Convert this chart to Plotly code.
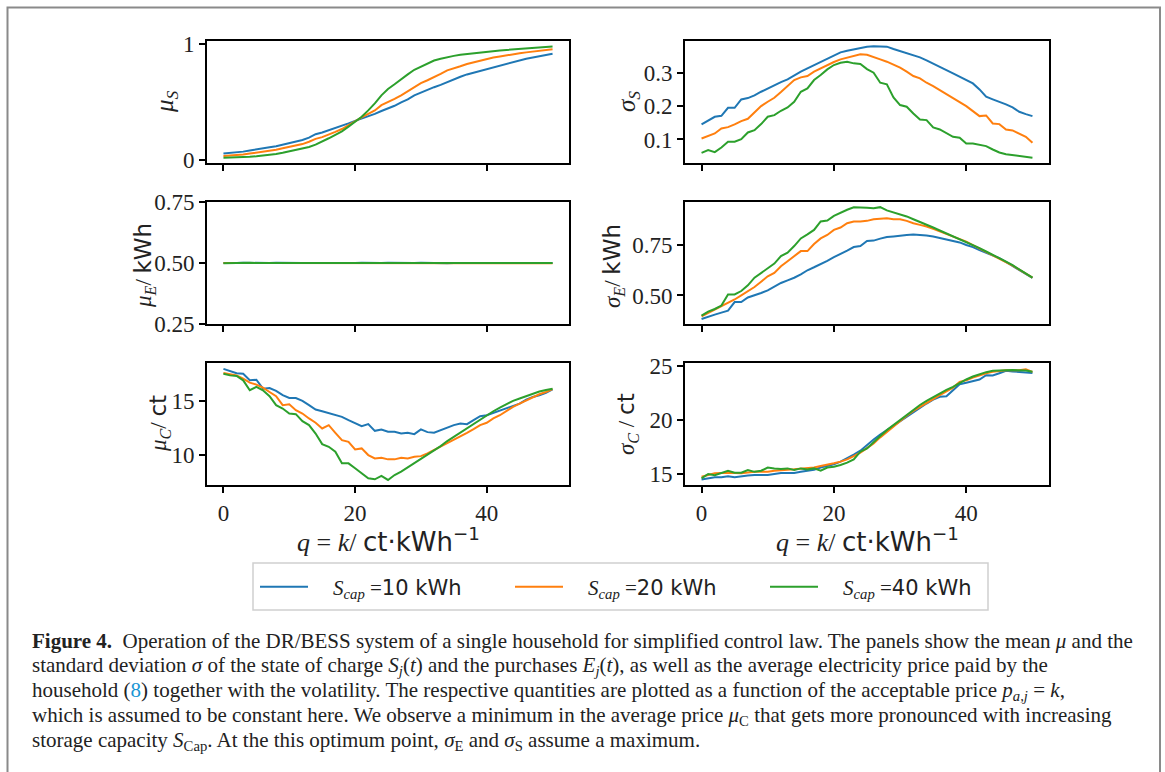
import plotly.graph_objects as go
from plotly.subplots import make_subplots

W, H = 1165, 772

k = list(range(51))

# ---------------- data ----------------
mu_S_10 = [0.058, 0.063, 0.068, 0.075, 0.085, 0.092, 0.100, 0.112, 0.122, 0.135, 0.148, 0.160, 0.175, 0.195,
           0.225, 0.240, 0.258, 0.278, 0.298, 0.318, 0.340, 0.360, 0.375, 0.400, 0.425, 0.445, 0.470, 0.500,
           0.525, 0.560, 0.585, 0.610, 0.630, 0.650, 0.675, 0.700, 0.720, 0.740, 0.755, 0.770, 0.785, 0.800,
           0.818, 0.833, 0.850, 0.862, 0.875, 0.885, 0.897, 0.907, 0.918]
mu_S_20 = [0.037, 0.040, 0.044, 0.050, 0.058, 0.065, 0.072, 0.082, 0.092, 0.104, 0.115, 0.125, 0.140, 0.160,
           0.185, 0.200, 0.220, 0.245, 0.270, 0.305, 0.340, 0.370, 0.400, 0.430, 0.475, 0.500, 0.530, 0.560,
           0.595, 0.630, 0.665, 0.690, 0.715, 0.745, 0.775, 0.790, 0.810, 0.830, 0.845, 0.860, 0.875, 0.885,
           0.895, 0.905, 0.918, 0.922, 0.930, 0.938, 0.945, 0.950, 0.957]
mu_S_40 = [0.023, 0.024, 0.025, 0.027, 0.030, 0.035, 0.040, 0.046, 0.055, 0.065, 0.078, 0.090, 0.102, 0.115,
           0.135, 0.160, 0.190, 0.220, 0.250, 0.290, 0.330, 0.375, 0.430, 0.490, 0.560, 0.615, 0.655, 0.700,
           0.740, 0.780, 0.805, 0.835, 0.860, 0.875, 0.890, 0.900, 0.910, 0.917, 0.925, 0.932, 0.937, 0.942,
           0.947, 0.951, 0.955, 0.960, 0.964, 0.968, 0.972, 0.976, 0.980]

sig_S_10 = [0.145, 0.157, 0.168, 0.171, 0.195, 0.195, 0.220, 0.224, 0.232, 0.243, 0.253, 0.263, 0.272, 0.280,
            0.292, 0.303, 0.313, 0.323, 0.333, 0.343, 0.353, 0.361, 0.366, 0.370, 0.374, 0.378, 0.379, 0.379,
            0.378, 0.371, 0.365, 0.358, 0.352, 0.346, 0.337, 0.328, 0.318, 0.308, 0.298, 0.288, 0.278, 0.268,
            0.250, 0.228, 0.220, 0.213, 0.205, 0.196, 0.183, 0.176, 0.170]
sig_S_20 = [0.103, 0.110, 0.118, 0.133, 0.137, 0.145, 0.155, 0.162, 0.180, 0.200, 0.213, 0.225, 0.242, 0.260,
            0.278, 0.286, 0.290, 0.303, 0.313, 0.323, 0.332, 0.340, 0.345, 0.350, 0.355, 0.354, 0.348, 0.340,
            0.333, 0.325, 0.315, 0.303, 0.290, 0.283, 0.270, 0.260, 0.248, 0.235, 0.222, 0.212, 0.200, 0.185,
            0.170, 0.172, 0.148, 0.146, 0.130, 0.127, 0.117, 0.108, 0.090]
sig_S_40 = [0.060, 0.068, 0.062, 0.076, 0.093, 0.093, 0.101, 0.121, 0.128, 0.146, 0.168, 0.173, 0.186, 0.196,
            0.213, 0.243, 0.253, 0.278, 0.293, 0.310, 0.323, 0.330, 0.333, 0.328, 0.326, 0.311, 0.300, 0.270,
            0.265, 0.226, 0.203, 0.198, 0.178, 0.160, 0.158, 0.136, 0.130, 0.118, 0.108, 0.105, 0.088, 0.088,
            0.085, 0.080, 0.070, 0.061, 0.056, 0.053, 0.050, 0.048, 0.045]

mu_E_10 = [0.500, 0.499, 0.500, 0.501, 0.500, 0.499, 0.500, 0.500, 0.501, 0.500, 0.500, 0.499, 0.500, 0.500,
           0.501, 0.500, 0.500, 0.500, 0.499, 0.500, 0.500, 0.501, 0.500, 0.500, 0.500, 0.501, 0.500, 0.500,
           0.499, 0.500, 0.501, 0.500, 0.500, 0.500, 0.499, 0.500, 0.500, 0.501, 0.501, 0.500, 0.500, 0.500,
           0.500, 0.499, 0.500, 0.500, 0.500, 0.500, 0.500, 0.500, 0.500]
mu_E_20 = [0.500, 0.500, 0.501, 0.500, 0.499, 0.500, 0.500, 0.501, 0.500, 0.500, 0.499, 0.500, 0.500, 0.501,
           0.500, 0.500, 0.500, 0.499, 0.500, 0.500, 0.501, 0.500, 0.500, 0.500, 0.500, 0.500, 0.501, 0.500,
           0.500, 0.499, 0.500, 0.500, 0.501, 0.500, 0.500, 0.500, 0.500, 0.500, 0.500, 0.501, 0.500, 0.500,
           0.500, 0.500, 0.499, 0.500, 0.500, 0.500, 0.500, 0.500, 0.499]
mu_E_40 = [0.499, 0.500, 0.500, 0.500, 0.501, 0.500, 0.500, 0.499, 0.500, 0.500, 0.500, 0.500, 0.501, 0.500,
           0.500, 0.500, 0.501, 0.500, 0.500, 0.500, 0.500, 0.499, 0.500, 0.501, 0.500, 0.500, 0.500, 0.500,
           0.501, 0.500, 0.500, 0.500, 0.500, 0.499, 0.500, 0.500, 0.501, 0.500, 0.500, 0.500, 0.500, 0.501,
           0.500, 0.500, 0.500, 0.500, 0.500, 0.499, 0.500, 0.500, 0.500]

sig_E_10 = [0.383, 0.395, 0.405, 0.415, 0.425, 0.467, 0.467, 0.490, 0.500, 0.512, 0.525, 0.545, 0.562, 0.575,
            0.588, 0.605, 0.625, 0.640, 0.655, 0.672, 0.690, 0.705, 0.722, 0.740, 0.745, 0.770, 0.772, 0.782,
            0.790, 0.793, 0.798, 0.800, 0.802, 0.800, 0.797, 0.792, 0.785, 0.780, 0.772, 0.763, 0.750, 0.740,
            0.725, 0.712, 0.700, 0.685, 0.666, 0.647, 0.627, 0.607, 0.587]
sig_E_20 = [0.397, 0.413, 0.430, 0.445, 0.462, 0.480, 0.500, 0.520, 0.542, 0.568, 0.595, 0.612, 0.645, 0.670,
            0.695, 0.720, 0.720, 0.755, 0.783, 0.800, 0.825, 0.837, 0.858, 0.867, 0.867, 0.870, 0.878, 0.882,
            0.883, 0.878, 0.878, 0.870, 0.858, 0.850, 0.842, 0.830, 0.817, 0.805, 0.792, 0.780, 0.767, 0.750,
            0.733, 0.717, 0.700, 0.683, 0.667, 0.648, 0.628, 0.608, 0.588]
sig_E_40 = [0.400, 0.420, 0.433, 0.450, 0.505, 0.505, 0.522, 0.550, 0.588, 0.612, 0.638, 0.658, 0.695, 0.712,
            0.745, 0.783, 0.803, 0.825, 0.867, 0.872, 0.895, 0.912, 0.925, 0.937, 0.937, 0.935, 0.933, 0.938,
            0.922, 0.913, 0.903, 0.892, 0.878, 0.865, 0.850, 0.837, 0.822, 0.808, 0.792, 0.780, 0.767, 0.752,
            0.735, 0.718, 0.702, 0.685, 0.668, 0.650, 0.630, 0.610, 0.588]

mu_C_10 = [18.00, 17.80, 17.60, 17.55, 16.95, 17.00, 16.17, 16.23, 15.96, 15.56, 15.30, 15.30, 15.03, 14.63,
           14.23, 14.07, 13.92, 13.70, 13.55, 13.24, 13.00, 12.69, 12.87, 12.25, 12.38, 12.16, 12.16, 12.00,
           12.07, 11.94, 12.38, 12.13, 12.07, 12.31, 12.56, 12.78, 12.93, 12.87, 13.24, 13.61, 13.70, 13.92,
           14.17, 14.38, 14.54, 14.78, 15.15, 15.40, 15.56, 15.77, 16.10]
mu_C_20 = [17.62, 17.50, 17.40, 17.10, 16.73, 16.54, 16.27, 15.86, 15.46, 14.63, 14.72, 14.17, 13.86, 13.40,
           13.00, 12.47, 12.78, 12.07, 11.39, 11.23, 10.52, 10.62, 10.00, 9.69, 9.75, 9.60, 9.60, 9.75,
           9.69, 9.84, 9.90, 10.15, 10.46, 10.77, 11.14, 11.39, 11.70, 12.07, 12.41, 12.78, 13.00, 13.40,
           13.70, 14.10, 14.48, 14.78, 15.09, 15.40, 15.65, 15.86, 16.12]
mu_C_40 = [17.56, 17.40, 17.35, 16.94, 16.02, 16.33, 16.02, 15.46, 14.63, 14.32, 13.86, 13.80, 13.15, 12.78,
           12.00, 11.02, 10.77, 10.31, 9.23, 9.23, 8.77, 8.30, 7.84, 7.75, 8.06, 7.69, 8.15, 8.46,
           8.86, 9.23, 9.60, 10.00, 10.40, 10.83, 11.30, 11.70, 12.10, 12.47, 12.87, 13.30, 13.70, 14.07,
           14.41, 14.72, 15.03, 15.25, 15.49, 15.71, 15.90, 16.05, 16.15]

sig_C_10 = [14.50, 14.60, 14.70, 14.70, 14.80, 14.70, 14.80, 14.85, 14.90, 14.90, 14.90, 15.00, 15.10, 15.10,
            15.10, 15.20, 15.30, 15.40, 15.60, 15.75, 15.90, 16.15, 16.45, 16.80, 17.16, 17.70, 18.20, 18.65,
            19.07, 19.50, 19.90, 20.35, 20.77, 21.15, 21.54, 21.90, 22.16, 22.22, 22.78, 23.33, 23.46, 23.60,
            23.77, 24.17, 24.14, 24.35, 24.57, 24.52, 24.48, 24.40, 24.38]
sig_C_20 = [14.75, 14.90, 15.06, 15.10, 15.12, 15.10, 15.06, 15.15, 15.20, 15.20, 15.20, 15.30, 15.37, 15.40,
            15.43, 15.48, 15.52, 15.60, 15.74, 15.85, 15.99, 16.15, 16.36, 16.65, 16.98, 17.40, 17.84, 18.40,
            18.92, 19.45, 19.94, 20.40, 20.86, 21.25, 21.60, 21.95, 22.31, 22.65, 23.02, 23.55, 23.70, 23.95,
            24.17, 24.35, 24.48, 24.58, 24.63, 24.63, 24.63, 24.72, 24.48]
sig_C_40 = [14.60, 15.00, 14.88, 15.06, 15.30, 15.12, 15.12, 15.37, 15.20, 15.30, 15.60, 15.52, 15.46, 15.52,
            15.37, 15.52, 15.43, 15.52, 15.30, 15.60, 15.68, 15.83, 16.05, 16.36, 17.07, 17.38, 17.99, 18.52,
            19.07, 19.54, 20.06, 20.50, 20.99, 21.40, 21.79, 22.15, 22.47, 22.80, 23.09, 23.45, 23.77, 24.05,
            24.26, 24.45, 24.57, 24.62, 24.63, 24.65, 24.63, 24.60, 24.48]

series_names = ["10", "20", "40"]
colors = ["#1f77b4", "#ff7f0e", "#2ca02c"]

panels = [
    (1, 1, [mu_S_10, mu_S_20, mu_S_40], [0, 1], ["0", "1"], [-0.023, 1.028]),
    (1, 2, [sig_S_10, sig_S_20, sig_S_40], [0.1, 0.2, 0.3], ["0.1", "0.2", "0.3"], [0.0295, 0.395]),
    (2, 1, [mu_E_10, mu_E_20, mu_E_40], [0.25, 0.5, 0.75], ["0.25", "0.50", "0.75"], [0.25, 0.75]),
    (2, 2, [sig_E_10, sig_E_20, sig_E_40], [0.5, 0.75], ["0.50", "0.75"], [0.3585, 0.9635]),
    (3, 1, [mu_C_10, mu_C_20, mu_C_40], [10, 15], ["10", "15"], [7.22, 18.55]),
    (3, 2, [sig_C_10, sig_C_20, sig_C_40], [15, 20, 25], ["15", "20", "25"], [13.98, 25.3]),
]
x_ticks = [0, 20, 40]

SERIF = "Liberation Serif"
SANS = "DejaVu Sans"
NB = "\u00a0"

fig = make_subplots(rows=3, cols=2)

for (r, c, ys, tv, tt, yr) in panels:
    for i, y in enumerate(ys):
        name = (NB * 3 + "<span style='font-family:Liberation Serif'><i>S</i><sub><i>cap</i></sub> =</span>"
                + series_names[i] + " kWh")
        fig.add_trace(go.Scatter(x=k, y=y, mode="lines", line=dict(color=colors[i], width=2),
                                 name=name, showlegend=(r == 1 and c == 1)), row=r, col=c)
    fig.update_yaxes(row=r, col=c, range=yr, tickvals=tv, ticktext=tt)
    fig.update_xaxes(row=r, col=c, range=[-2.5, 52.5], tickvals=x_ticks,
                     ticktext=[str(v) for v in x_ticks], showticklabels=(r == 3))

# domains in pixels
col_px = {1: (207, 569), 2: (685, 1049)}
row_px = {1: (41, 163), 2: (202, 324), 3: (363, 485)}
for r in (1, 2, 3):
    for c in (1, 2):
        x0, x1 = col_px[c]
        t, b = row_px[r]
        fig.update_xaxes(row=r, col=c, domain=[x0 / W, x1 / W])
        fig.update_yaxes(row=r, col=c, domain=[1 - b / H, 1 - t / H])

axis_common = dict(showline=True, linecolor="black", linewidth=2, mirror=True, showgrid=False,
                   zeroline=False, ticks="outside", ticklen=6, tickwidth=1.5, tickcolor="black",
                   automargin=False,
                   tickfont=dict(family=SERIF, size=23, color="#222"))
fig.update_xaxes(**axis_common)
fig.update_yaxes(**axis_common)

annotations = []


def ann(text, xpx, ypx, size=26, angle=0, xanchor="center", family=SERIF):
    annotations.append(dict(text=text, x=xpx / W, y=1 - ypx / H, xref="paper", yref="paper",
                            showarrow=False, textangle=angle, xanchor=xanchor, yanchor="middle",
                            font=dict(family=family, size=size, color="#222")))


sans = lambda s: "<span style='font-family:DejaVu Sans'>" + s + "</span>"

# y-axis titles
YT = 23
ann("<i>μ</i><sub><i>S</i></sub>", 166, 102, size=25, angle=-90)
ann("<i>μ</i><sub><i>E</i></sub>/ " + sans("kWh"), 144, 266, size=YT, angle=-90)
ann("<i>μ</i><sub><i>C</i></sub>/ " + sans("ct"), 160, 424, size=YT, angle=-90)
ann("<i>σ</i><sub><i>S</i></sub>", 628, 102, size=25, angle=-90)
ann("<i>σ</i><sub><i>E</i></sub>/ " + sans("kWh"), 613, 266, size=YT, angle=-90)
ann("<i>σ</i><sub><i>C</i></sub> / " + sans("ct"), 628, 424, size=YT, angle=-90)

# x-axis titles
xt = "<i>q</i> = <i>k</i>/ " + sans("ct·kWh<sup>−1</sup>")
ann(xt, 388, 540)
ann(xt, 867, 540)

# caption
cap = [
    "<b>Figure 4.</b>  Operation of the DR/BESS system of a single household for simplified control law. "
    "The panels show the mean <i>μ</i> and the",
    "standard deviation <i>σ</i> of the state of charge <i>S</i><sub><i>j</i></sub>(<i>t</i>) and the purchases "
    "<i>E</i><sub><i>j</i></sub>(<i>t</i>), as well as the average electricity price paid by the",
    "household (<span style='color:#1a96d4'>8</span>) together with the volatility. The respective quantities "
    "are plotted as a function of the acceptable price <i>p</i><sub><i>a,j</i></sub> = <i>k</i>,",
    "which is assumed to be constant here. We observe a minimum in the average price <i>μ</i><sub>C</sub> "
    "that gets more pronounced with increasing",
    "storage capacity <i>S</i><sub>Cap</sub>. At the this optimum point, <i>σ</i><sub>E</sub> and "
    "<i>σ</i><sub>S</sub> assume a maximum.",
]
for i, line in enumerate(cap):
    ann(line, 30, 641 + 25 * i, size=21, xanchor="left")

fig.update_layout(
    width=W, height=H, margin=dict(l=0, r=0, t=0, b=0, autoexpand=False),
    paper_bgcolor="white", plot_bgcolor="white",
    annotations=annotations,
    legend=dict(orientation="h", x=255 / W, y=1 - 587 / H, xanchor="left", yanchor="middle",
                borderwidth=0, bgcolor="rgba(0,0,0,0)",
                font=dict(family=SANS, size=21, color="#222"),
                entrywidth=192, entrywidthmode="pixels", itemwidth=48),
    shapes=[
        dict(type="rect", xref="paper", yref="paper", x0=7.5 / W, x1=1160 / W, y0=-0.05,
             y1=1 - 7.5 / H, line=dict(color="#8a8a8a", width=2), fillcolor="rgba(0,0,0,0)"),
        dict(type="rect", xref="paper", yref="paper", x0=253 / W, x1=988 / W, y0=1 - 610 / H,
             y1=1 - 563 / H, line=dict(color="#d0d0d0", width=1.5), fillcolor="rgba(0,0,0,0)"),
    ],
)

fig.write_html("out.html")
